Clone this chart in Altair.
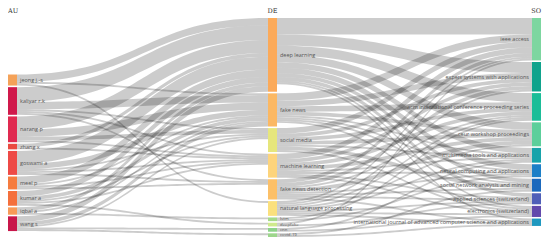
import altair as alt
import pandas as pd
import numpy as np

# ---- nodes ----
au_names = ["jeong j.-s", "kaliyar r.k", "narang p", "zhang x", "goswami a",
            "meel p", "kumar a", "iqbal a", "wang s"]
au_colors = ["#f4a259", "#d0194b", "#e02a50", "#ea4a40", "#ee4a46",
             "#f57c3f", "#f4703c", "#f79a58", "#c8164a"]

de_names = ["deep learning", "fake news", "social media", "machine learning",
            "fake news detection", "natural language processing", "lstm",
            "deepfake", "cnn", "covid-19"]
de_colors = ["#fbaa5a", "#fbb863", "#e6e67c", "#fdd47c", "#fcc068", "#fbe07d",
             "#a6d98a", "#cfea8c", "#8ed28a", "#9dd68c"]

so_names = ["ieee access", "expert systems with applications",
            "acm international conference proceeding series",
            "ceur workshop proceedings", "multimedia tools and applications",
            "neural computing and applications",
            "social network analysis and mining",
            "applied sciences (switzerland)", "electronics (switzerland)",
            "international journal of advanced computer science and applications"]
so_colors = ["#7dd6a0", "#0fa38c", "#1bbd98", "#5ccf9b", "#17a3aa", "#1c7fc7",
             "#1b69bd", "#4f5fb8", "#6249ac", "#1f98bf"]

# ---- flows AU -> DE ----
ad_src = ["jeong j.-s", "kaliyar r.k", "narang p", "zhang x", "goswami a", "meel p", "kumar a", "iqbal a", "wang s",
          "jeong j.-s", "kaliyar r.k", "narang p", "goswami a", "meel p", "kumar a", "iqbal a", "wang s",
          "kaliyar r.k", "narang p", "goswami a", "kumar a", "wang s",
          "kaliyar r.k", "narang p", "zhang x", "goswami a", "meel p", "kumar a",
          "kaliyar r.k", "goswami a", "meel p",
          "jeong j.-s", "iqbal a", "kumar a", "wang s", "wang s"]
ad_tgt = ["deep learning"] * 9 + ["fake news"] * 8 + ["social media"] * 5 + \
         ["machine learning"] * 6 + ["fake news detection"] * 3 + \
         ["natural language processing", "lstm", "deepfake", "cnn", "covid-19"]
ad_val = [4, 8, 7, 2, 7, 4, 3, 2, 3,
          1, 4, 4, 3, 1, 2, 1, 2,
          1, 2, 1, 1, 1,
          1, 1, 1, 1, 1, 1,
          1, 1, 1,
          1, 1, 1, 1, 1]

# ---- flows DE -> SO ----
ds_src = ["deep learning", "fake news", "social media", "machine learning", "fake news detection", "natural language processing", "deepfake",
          "deep learning", "fake news", "social media", "machine learning", "fake news detection", "natural language processing",
          "deep learning", "fake news", "social media", "machine learning", "fake news detection", "natural language processing", "lstm",
          "deep learning", "fake news", "social media", "machine learning", "fake news detection", "natural language processing",
          "deep learning", "fake news", "social media", "machine learning", "natural language processing", "cnn",
          "deep learning", "fake news", "machine learning", "fake news detection", "lstm",
          "deep learning", "fake news", "social media", "fake news detection", "covid-19",
          "deep learning", "machine learning", "fake news detection", "natural language processing", "deepfake",
          "deep learning", "fake news", "social media", "machine learning", "natural language processing", "cnn",
          "deep learning", "natural language processing", "fake news detection", "covid-19"]
ds_tgt = [so_names[0]] * 7 + [so_names[1]] * 6 + [so_names[2]] * 7 + [so_names[3]] * 6 + \
         [so_names[4]] * 6 + [so_names[5]] * 5 + [so_names[6]] * 5 + [so_names[7]] * 5 + \
         [so_names[8]] * 6 + [so_names[9]] * 4
ds_val = [9, 4, 3, 3, 2, 1, 1,
          6, 3, 2, 2, 2, 1,
          5, 3, 2, 2, 1, 1, 1,
          4, 2, 2, 2, 2, 1,
          3, 1, 1, 1, 1, 1,
          3, 1, 1, 1, 1,
          2, 1, 2, 1, 1,
          2, 1, 1, 1, 1,
          1, 1, 1, 1, 1, 1,
          1, 1, 1, 1]

# ---- layout (computed from the flow values) ----
GAP = 1.6
NODE_W = 9
col_x = [8, 268, 532]
col_top = [74.5, 18, 18]
DE_BOTTOM = 237

links = [(s, t, v, 0) for s, t, v in zip(ad_src, ad_tgt, ad_val)] + \
        [(s, t, v, 1) for s, t, v in zip(ds_src, ds_tgt, ds_val)]

cols = [au_names, de_names, so_names]
colors = [au_colors, de_colors, so_colors]
node_col = {}
for ci, names in enumerate(cols):
    for n in names:
        node_col[n] = ci

inflow = {n: 0 for names in cols for n in names}
outflow = {n: 0 for names in cols for n in names}
for s, t, v, _ in links:
    outflow[s] += v
    inflow[t] += v
size = {n: max(inflow[n], outflow[n]) for n in inflow}

k = (DE_BOTTOM - col_top[1] - GAP * (len(de_names) - 1)) / sum(size[n] for n in de_names)

node_y = {}
node_rows = []
for ci, names in enumerate(cols):
    y = col_top[ci]
    for n, c in zip(names, colors[ci]):
        h = size[n] * k
        node_y[n] = y
        node_rows.append({"name": n, "x0": col_x[ci], "x1": col_x[ci] + NODE_W,
                          "y0": y, "y1": y + h, "yc": y + h / 2, "color": c,
                          "col": ci, "small": h < 6})
        y += h + GAP
nodes = pd.DataFrame(node_rows)

# stack link ends at nodes, ordered by the other end's position
out_off = {n: 0.0 for n in node_y}
in_off = {n: 0.0 for n in node_y}
src_y = {}
tgt_y = {}
for n in node_y:
    outs = sorted([i for i, l in enumerate(links) if l[0] == n], key=lambda i: node_y[links[i][1]])
    for i in outs:
        src_y[i] = node_y[n] + out_off[n]
        out_off[n] += links[i][2] * k
    ins = sorted([i for i, l in enumerate(links) if l[1] == n], key=lambda i: node_y[links[i][0]])
    for i in ins:
        tgt_y[i] = node_y[n] + in_off[n]
        in_off[n] += links[i][2] * k

ts = np.linspace(0, 1, 41)
link_rows = []
for i, (s, t, v, stage) in enumerate(links):
    x0 = col_x[node_col[s]] + NODE_W
    x1 = col_x[node_col[t]]
    xc = (x0 + x1) / 2
    ya, yb = src_y[i], tgt_y[i]
    h = v * k
    for tt in ts:
        u = 1 - tt
        x = u ** 3 * x0 + 3 * u ** 2 * tt * xc + 3 * u * tt ** 2 * xc + tt ** 3 * x1
        y = u ** 3 * ya + 3 * u ** 2 * tt * ya + 3 * u * tt ** 2 * yb + tt ** 3 * yb
        link_rows.append({"id": i, "x": x, "y0": y, "y1": y + h})
link_df = pd.DataFrame(link_rows)

xs = alt.Scale(domain=[8, 542], nice=False, zero=False)
ys = alt.Scale(domain=[8, 238], nice=False, zero=False, reverse=True)

link_layer = alt.Chart(link_df).mark_area(color="black", opacity=0.2, interpolate="linear").encode(
    x=alt.X("x:Q", scale=xs, axis=None),
    y=alt.Y("y0:Q", scale=ys, axis=None),
    y2="y1:Q",
    detail="id:N",
)

node_layer = alt.Chart(nodes).mark_rect().encode(
    x=alt.X("x0:Q", scale=xs, axis=None), x2="x1:Q",
    y=alt.Y("y0:Q", scale=ys, axis=None), y2="y1:Q",
    color=alt.Color("color:N", scale=None),
)

FONT = "Open Sans"
LC = "#555"
lab_au = alt.Chart(nodes[nodes.col == 0]).mark_text(
    align="left", baseline="middle", dx=3, fontSize=5.5, font=FONT, color=LC
).encode(x=alt.X("x1:Q", scale=xs), y=alt.Y("yc:Q", scale=ys), text="name:N")
lab_de = alt.Chart(nodes[(nodes.col == 1) & (~nodes.small)]).mark_text(
    align="left", baseline="middle", dx=3, fontSize=5.5, font=FONT, color=LC
).encode(x=alt.X("x1:Q", scale=xs), y=alt.Y("yc:Q", scale=ys), text="name:N")
lab_de_small = alt.Chart(nodes[(nodes.col == 1) & (nodes.small)]).mark_text(
    align="left", baseline="middle", dx=3, fontSize=4.3, font=FONT, color=LC
).encode(x=alt.X("x1:Q", scale=xs), y=alt.Y("yc:Q", scale=ys), text="name:N")
lab_so = alt.Chart(nodes[nodes.col == 2]).mark_text(
    align="right", baseline="middle", dx=-3, fontSize=5.5, font=FONT, color=LC
).encode(x=alt.X("x0:Q", scale=xs), y=alt.Y("yc:Q", scale=ys), text="name:N")

headers = pd.DataFrame({"label": ["AU", "DE", "SO"],
                        "x": [col_x[0], col_x[1] + NODE_W / 2, col_x[2] + NODE_W],
                        "y": [11, 11, 11]})
head_left = alt.Chart(headers.iloc[[0]]).mark_text(
    align="left", baseline="middle", fontSize=6.5, font="DejaVu Serif", color="#333"
).encode(x=alt.X("x:Q", scale=xs), y=alt.Y("y:Q", scale=ys), text="label:N")
head_mid = alt.Chart(headers.iloc[[1]]).mark_text(
    align="center", baseline="middle", fontSize=6.5, font="DejaVu Serif", color="#333"
).encode(x=alt.X("x:Q", scale=xs), y=alt.Y("y:Q", scale=ys), text="label:N")
head_right = alt.Chart(headers.iloc[[2]]).mark_text(
    align="right", baseline="middle", fontSize=6.5, font="DejaVu Serif", color="#333"
).encode(x=alt.X("x:Q", scale=xs), y=alt.Y("y:Q", scale=ys), text="label:N")

chart = alt.layer(link_layer, node_layer, lab_au, lab_de, lab_de_small, lab_so,
                  head_left, head_mid, head_right).properties(
    width=534, height=230, padding=0,
    autosize=alt.AutoSizeParams(type="fit", contains="padding"),
).configure_view(stroke=None)

chart.save("out.html", embed_options={"renderer": "svg", "actions": False})
